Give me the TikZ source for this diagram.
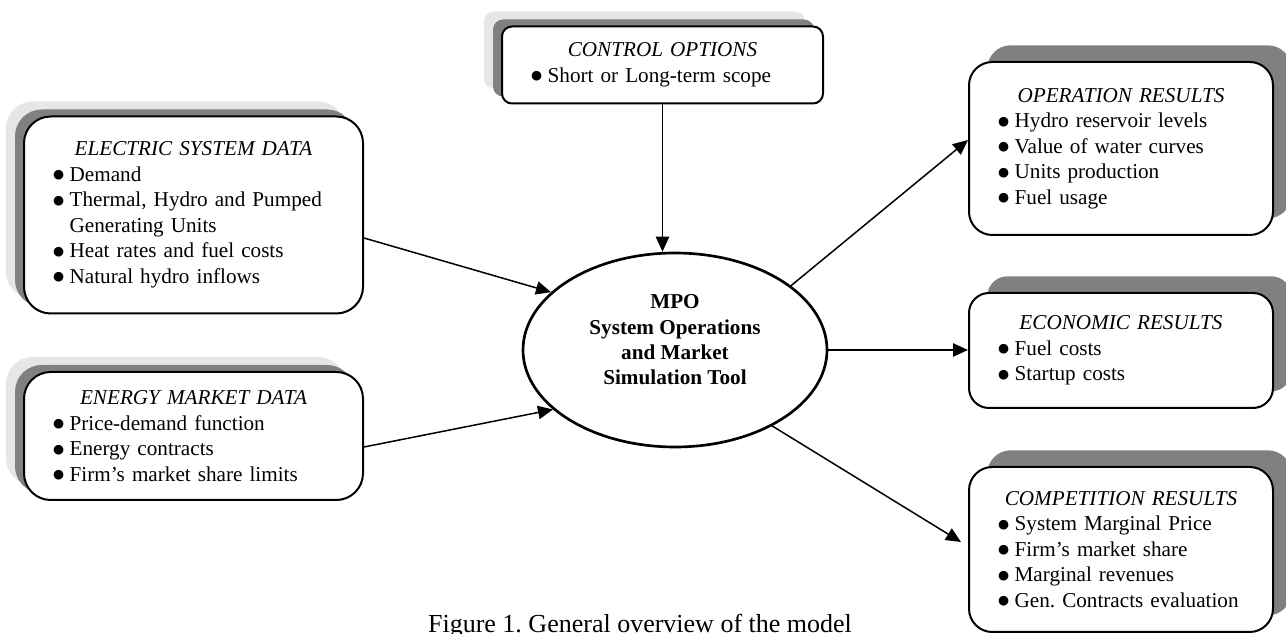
\documentclass[tikz,border=0pt]{standalone}
\usepackage{fontspec}
\setmainfont{Liberation Serif}
\newfontfamily\dotfont{DejaVu Sans}
\usepackage{xcolor}
\usepackage{tikz}
\usetikzlibrary{arrows.meta,positioning,shapes.geometric,shadows}
\frenchspacing

\definecolor{shadedark}{HTML}{808080}
\definecolor{shadelight}{HTML}{E6E6E6}

\newcommand{\boxhead}[1]{{\centering\itshape #1\par}}
\newcommand{\itm}[1]{\par\hangindent=10pt\hangafter=1\noindent\makebox[10pt][l]{\hspace{0pt}\raisebox{1.5pt}{\dotfont\fontsize{7.6}{0}\selectfont ●}}#1}

\tikzset{
  databox/.style={draw, line width=1.2pt, fill=white, rounded corners=16pt,
    inner xsep=17.4pt, inner ysep=0pt, align=left,
    font=\fontsize{12.7}{15.3}\selectfont},
  leftshade/.style={
    drop shadow={shadow xshift=-10.8pt, shadow yshift=9pt, fill=shadelight, opacity=1},
    drop shadow={shadow xshift=-5.4pt, shadow yshift=4.2pt, fill=shadedark, opacity=1}},
  rightshade/.style={
    drop shadow={shadow xshift=11pt, shadow yshift=10pt, fill=shadedark, opacity=1}},
  arr/.style={-{Triangle[length=9pt,width=8pt]}, line width=0.9pt}
}

\begin{document}
\begin{tikzpicture}[x=0.6pt, y=-0.6pt]
  \useasboundingbox (0,0) rectangle (1286,634);

  % input data boxes
  \node[databox, leftshade, text width=168.6pt, minimum height=118.2pt] (elec) at (193.5,215)
    {\boxhead{ELECTRIC SYSTEM DATA}\itm{Demand}\itm{Thermal, Hydro and Pumped\newline Generating Units}\itm{Heat rates and fuel costs}\itm{Natural hydro inflows}};
  \node[databox, leftshade, text width=168.6pt, minimum height=76.8pt] (energy) at (193.5,436)
    {\boxhead{ENERGY MARKET DATA}\itm{Price-demand function}\itm{Energy contracts}\itm{Firm’s market share limits}};
  \node[databox, leftshade, rounded corners=6pt, text width=157.8pt, minimum height=46.2pt] (ctrl) at (662.5,65)
    {\boxhead{CONTROL OPTIONS}\itm{Short or Long-term scope}};

  % simulation tool
  \node[ellipse, draw, line width=1.6pt, fill=white, minimum width=182.4pt, minimum height=116.4pt, inner sep=0pt] (mpo) at (675,350) {};
  \node[align=center, font=\fontsize{12.7}{15.2}\selectfont\bfseries] (mpotxt) at (675,340)
    {MPO\\System Operations\\and Market\\Simulation Tool};

  % result boxes
  \node[databox, rightshade, rounded corners=14pt, text width=147.6pt, minimum height=103.8pt] (op) at (1121,148.5)
    {\boxhead{OPERATION RESULTS}\itm{Hydro reservoir levels}\itm{Value of water curves}\itm{Units production}\itm{Fuel usage}};
  \node[databox, rightshade, rounded corners=12pt, text width=147.6pt, minimum height=69pt] (eco) at (1121,350.5)
    {\boxhead{ECONOMIC RESULTS}\itm{Fuel costs}\itm{Startup costs}};
  \node[databox, rightshade, rounded corners=14pt, text width=147.6pt, minimum height=99pt] (comp) at (1121,549.5)
    {\boxhead{COMPETITION RESULTS}\itm{System Marginal Price}\itm{Firm’s market share}\itm{Marginal revenues}\itm{Gen. Contracts evaluation}};

  % connectors
  \draw[arr] ([yshift=-13.8pt]elec.east) -- (mpo.155);
  \draw[arr] ([yshift=-6.6pt]energy.east) -- (mpo.206);
  \draw[arr] (ctrl.south) -- (ctrl.south |- mpo.north);
  \draw[arr] (mpo.29) -- ([yshift=5.1pt]op.west);
  \draw[arr] (mpo.east) -- (mpo.east -| eco.west);
  \draw[arr] (mpo.-38) -- ([shift={(-4.2pt,4.5pt)}]comp.west);

  % caption
  \node[anchor=base, font=\fontsize{15.6}{18}\selectfont] (cap) at (640,633) {Figure 1. General overview of the model};
\end{tikzpicture}
\end{document}
